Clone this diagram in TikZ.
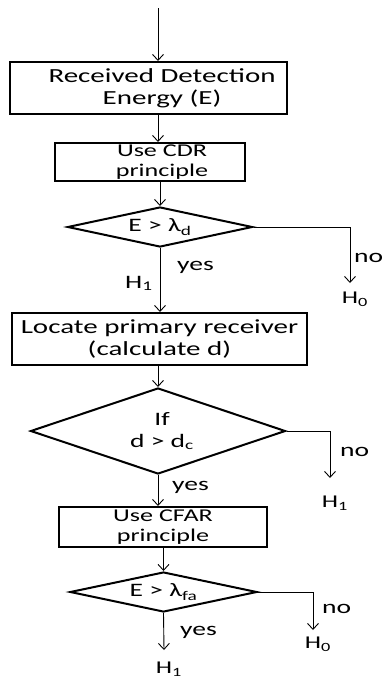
\documentclass[tikz,border=0pt]{standalone}
\usepackage{fontspec}
\setmainfont{Carlito}[FakeStretch=1.45]
\usetikzlibrary{arrows.meta,shapes.geometric}
\begin{document}
\begin{tikzpicture}[x=1pt,y=-1pt,
  box/.style={draw, line width=2pt, inner sep=0pt, align=center},
  dia/.style={draw, diamond, line width=2pt, inner sep=0pt, align=center, font=\fontsize{19}{22}\selectfont},
  big/.style={font=\fontsize{20}{22}\selectfont},
  small/.style={font=\fontsize{18}{19.5}\selectfont},
  conn/.style={line width=0.9pt, -{Straight Barb[length=6pt,width=11pt]}},
  lbl/.style={font=\fontsize{19}{22}\selectfont, inner sep=0pt, anchor=base west},
  hl/.style={font=\fontsize{18}{20}\selectfont, inner xsep=0pt, anchor=north},
]
\useasboundingbox (0,0) rectangle (384,681);

\coordinate (top) at (158,8);
\node[box, big, minimum width=277pt, minimum height=52pt] (b1) at (148.5,88) {\hspace*{27pt}Received Detection\\\hspace*{27pt}Energy (E)};
\node[box, small, minimum width=190pt, minimum height=38pt] (b2) at (150,162) {\hspace*{24pt}Use CDR\\\hspace*{24pt}principle};
\node[dia, minimum width=185pt, minimum height=40pt, aspect=4.6] (d1) at (160,227) {E > λ\textsubscript{d}};
\node[box, big, minimum width=295pt, minimum height=52pt] (b3) at (159.5,339) {Locate primary receiver\\(calculate d)};
\node[dia, minimum width=255pt, minimum height=86pt, aspect=2.97] (d2) at (158,431) {\hspace*{8pt}If\\\hspace*{8pt}d > d\textsubscript{c}};
\node[box, small, minimum width=208pt, minimum height=40pt] (b4) at (163,527) {Use CFAR\\principle};
\node[dia, minimum width=187pt, minimum height=40pt, aspect=4.7] (d3) at (163.5,592) {E > λ\textsubscript{fa}};

\node[hl, inner ysep=9pt] (h0a) at (350,283) {H\rlap{\textsubscript{0}}};
\node[hl, inner ysep=18pt] (h1b) at (330,478) {H\rlap{\textsubscript{1}}};
\node[hl, inner ysep=7pt] (h0c) at (313,630) {H\rlap{\textsubscript{0}}};
\node[hl, inner ysep=12pt] (h1d) at (164,650) {H\rlap{\textsubscript{1}}};

\draw[conn] (top) -- (top |- b1.north);
\draw[conn] (b1.south -| top) -- (b2.north -| top);
\draw[conn] (b2.south -| d1.north) -- (d1.north);
\draw[conn] (d1.south) -- (d1.south |- b3.north);
\draw[conn] (b3.south -| d2.north) -- (d2.north);
\draw[conn] (d2.south) -- (d2.south |- b4.north);
\draw[conn] (b4.south -| d3.north) -- (d3.north);
\draw[conn] (d3.south) -- (h1d.north);

\draw[conn] (d1.east) -| (h0a.north);
\draw[conn] (d2.east) -| (h1b.north);
\draw[conn] (d3.east) -| (h0c.north);

\node[lbl] (y1) at (177,270) {yes};
\node[lbl] (h1a) at (125,288) {H\textsubscript{1}};
\node[lbl] (n1) at (354,262) {no};
\node[lbl] (y2) at (172,490) {yes};
\node[lbl] (n2) at (340,456) {no};
\node[lbl] (y3) at (180,635) {yes};
\node[lbl] (n3) at (322,613) {no};
\end{tikzpicture}
\end{document}
